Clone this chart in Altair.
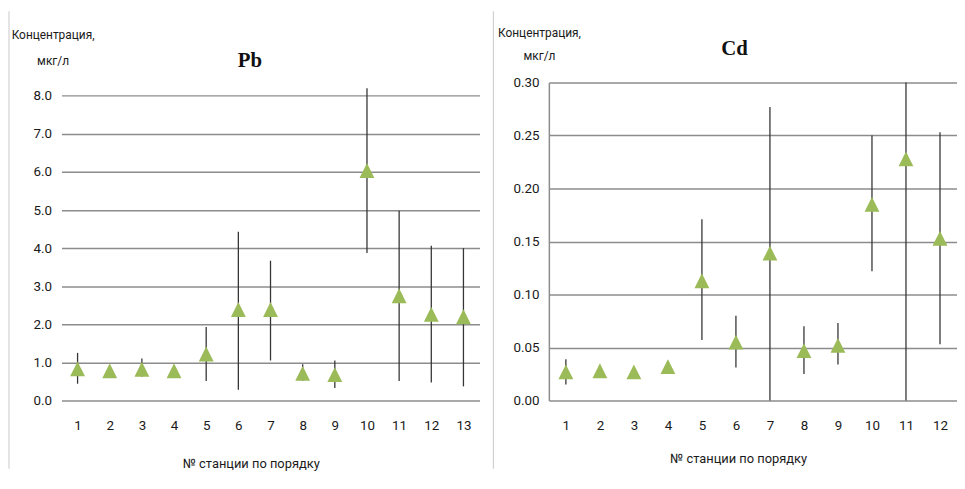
import altair as alt
import pandas as pd

# ---- data ----
pb_stations = [1, 2, 3, 4, 5, 6, 7, 8, 9, 10, 11, 12, 13]
pb_mean = [0.83, 0.78, 0.82, 0.78, 1.22, 2.39, 2.39, 0.71, 0.68, 6.04, 2.75, 2.26, 2.20]
pb_low = [0.44, None, 0.62, None, 0.51, 0.28, 1.05, 0.52, 0.33, 3.87, 0.51, 0.47, 0.37]
pb_high = [1.25, None, 1.10, None, 1.93, 4.43, 3.67, 0.95, 1.05, 8.20, 4.98, 4.06, 4.00]

cd_stations = [1, 2, 3, 4, 5, 6, 7, 8, 9, 10, 11, 12]
cd_mean = [0.027, 0.028, 0.027, 0.032, 0.113, 0.055, 0.139, 0.047, 0.052, 0.185, 0.228, 0.153]
cd_low = [0.015, None, None, None, 0.057, 0.031, 0.000, 0.025, 0.034, 0.122, 0.000, 0.053]
cd_high = [0.039, None, None, None, 0.171, 0.080, 0.277, 0.070, 0.073, 0.250, 0.300, 0.253]

pb_ticks = [0, 1, 2, 3, 4, 5, 6, 7, 8]
cd_ticks = [0, 0.05, 0.10, 0.15, 0.20, 0.25, 0.30]

y_title = ["Концентрация,", "мкг/л"]
x_title = "№ станции  по порядку"

FONT = "Roboto, Liberation Sans, sans-serif"
TEXT = "#1a1a1a"
GRID = "#8c8c8c"
GREEN = "#9BBB59"
TRI = "M0,-1L1,1L-1,1Z"


def panel(stations, mean, low, high, name, y_max, ticks, fmt, width, x_range,
          yt_x, yt_y, yt_lh, xt_x, xt_y, show_domain, border_x, title_dx, title_dy):
    df = pd.DataFrame({"station": stations, "mean": mean, "low": low, "high": high})
    xscale = alt.Scale(type="point", padding=0.5, range=x_range)
    x = alt.X(
        "station:O",
        scale=xscale,
        axis=alt.Axis(
            labelAngle=0, ticks=False, domain=False, grid=False,
            labelFont=FONT, labelFontSize=13.5, labelColor=TEXT, labelPadding=18,
            title=x_title, titleFont=FONT, titleFontSize=13, titleFontWeight="normal",
            titleColor=TEXT, titleX=xt_x, titleY=xt_y, titleAlign="center",
            titleBaseline="middle",
        ),
    )
    yscale = alt.Scale(domain=[0, y_max], nice=False, zero=True)
    yaxis = alt.Axis(
        values=ticks, format=fmt, grid=True, gridColor=GRID, gridWidth=1.5,
        ticks=False, domain=show_domain, domainColor=GRID, domainWidth=1.5,
        labelFont=FONT, labelFontSize=13.5, labelColor=TEXT, labelPadding=10,
        title=y_title, titleAngle=0, titleAlign="center", titleBaseline="middle",
        titleX=yt_x, titleY=yt_y, titleLineHeight=yt_lh, titleFont=FONT,
        titleFontSize=12, titleFontWeight="normal", titleColor=TEXT,
    )
    base = alt.Chart(df)
    bars = base.mark_rule(color="#363636", strokeWidth=1.3).encode(
        x=x, y=alt.Y("low:Q", scale=yscale, axis=yaxis), y2="high:Q"
    )
    pts = base.mark_point(shape=TRI, filled=True, color=GREEN, opacity=1, size=225).encode(
        x=x, y=alt.Y("mean:Q", scale=yscale, axis=yaxis)
    )
    border = alt.Chart(pd.DataFrame({"k": [0]})).mark_rule(color="#c8c8c8", strokeWidth=1).encode(
        x=alt.value(border_x), y=alt.value(-72), y2=alt.value(390)
    )
    return alt.layer(border, bars, pts).properties(
        width=width, height=321,
        title=alt.TitleParams(
            name, font="Liberation Serif", fontSize=21, fontWeight="bold", color="#111111",
            anchor="start", frame="group", dx=title_dx, dy=title_dy, offset=0,
        ),
    )


left = panel(pb_stations, pb_mean, pb_low, pb_high, "Pb", 8.35, pb_ticks, ".1f", 422, [0, 422],
             -9, -48, 26, 191, 64, False, -53, 178, 61)
right = panel(cd_stations, cd_mean, cd_low, cd_high, "Cd", 0.30, cd_ticks, ".2f", 404, [0, 412],
              -10, -50, 23, 191, 59, True, -56, 174, 49)

chart = alt.hconcat(left, right, spacing=70, bounds="flush").properties(
    padding={"left": 0, "top": 0, "right": 0, "bottom": 0},
    background="white",
).configure_view(stroke=None)

chart.save("out.html", embed_options={"renderer": "svg", "actions": False})
